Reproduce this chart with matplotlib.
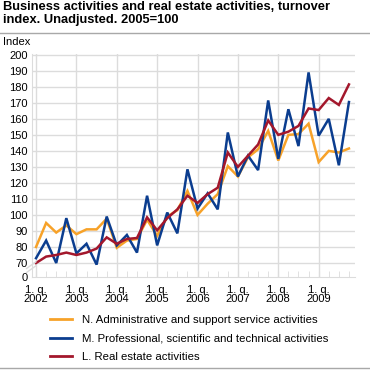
import numpy as np
import matplotlib
matplotlib.use('Agg')
import matplotlib.pyplot as plt
from matplotlib.lines import Line2D

plt.rcParams['font.family'] = ['Liberation Sans', 'DejaVu Sans']

# Quarterly index values, 1. q. 2002 - 4. q. 2009 (2005=100)
years = list(range(2002, 2010))
admin_support = [80, 95, 89, 93.5, 88, 91, 91, 97.7,
                 79.5, 84, 85, 97, 87, 99, 103, 115,
                 100, 107, 113, 130.5, 124, 136, 141, 152.5,
                 134, 150, 150.5, 157, 133, 140, 139, 141.5]
professional = [73, 84, 70, 98, 76, 82, 69, 99,
                81, 87.5, 76.5, 112, 81, 101.5, 88.5, 128.5,
                104, 113.5, 103.5, 151.5, 124, 137, 128, 171.5,
                135, 166, 143, 189, 149.5, 160, 131, 170.5]
real_estate = [70, 74, 75, 76.5, 75, 76.5, 79, 86,
               82, 85, 85.6, 98.5, 90.4, 98, 103.5, 112,
               107.5, 113, 117, 139, 130, 137, 144, 159,
               150, 152, 155.6, 166.5, 165.5, 173, 168.7, 181.5]

series_labels = ['N. Administrative and support service activities',
                 'M. Professional, scientific and technical activities',
                 'L. Real estate activities']
colors = ['#f7a229', '#0b3d8f', '#a3172c']
grid_col = '#dcdcdc'

y_ticks = list(range(70, 201, 10))
zero_pos = 61.25  # where "0" sits below the axis break

fig = plt.figure(figsize=(3.7, 3.7), dpi=100)
ax = fig.add_axes([32 / 370, 1 - 277 / 370, 323 / 370, 223 / 370])

x = np.arange(len(real_estate))
for vals, c in zip([admin_support, professional, real_estate], colors):
    ax.plot(x, vals, color=c, lw=1.8, solid_joinstyle='miter')

ax.set_xlim(-0.4, 31.6)
ax.set_ylim(zero_pos, 200.5)

ax.set_yticks([zero_pos] + y_ticks)
ax.set_yticklabels(['0'] + [str(v) for v in y_ticks])
for v in y_ticks:
    ax.axhline(v, color=grid_col, lw=1, zorder=0)

year_pos = [4 * i for i in range(len(years))]
ax.set_xticks(year_pos)
ax.set_xticklabels(['1. q.\n%d' % y for y in years], linespacing=0.85)
ax.set_xticks(x, minor=True)
for p in year_pos:
    ax.axvline(p, color=grid_col, lw=1, zorder=0)

ax.tick_params(axis='x', which='both', direction='in', length=4,
               color=grid_col, labelsize=8, pad=6)
ax.tick_params(axis='y', length=0, labelsize=8, pad=3)

for s in ['top', 'right']:
    ax.spines[s].set_visible(False)
ax.spines['left'].set_color(grid_col)
ax.spines['bottom'].set_color(grid_col)

# axis break marks
for dy in (0.0, 0.018):
    ax.plot([-0.017, 0.012], [0.02 + dy, 0.05 + dy], transform=ax.transAxes,
            color=grid_col, lw=1, clip_on=False)

fig.text(3 / 370, 1 - 1 / 370,
         'Business activities and real estate activities, turnover\nindex. Unadjusted. 2005=100',
         fontsize=9.3, fontweight='bold', va='top', ha='left', linespacing=1.15)
fig.add_artist(Line2D([0, 1], [1 - 33 / 370] * 2, color='#a8a8a8', lw=1))
fig.add_artist(Line2D([0, 1], [1 - 367.5 / 370] * 2, color='#a8a8a8', lw=1))
fig.text(3 / 370, 1 - 42 / 370, 'Index', fontsize=8, va='center', ha='left')

handles = [Line2D([], [], color=c, lw=2) for c in colors]
fig.legend(handles, series_labels, loc='upper left',
           bbox_to_anchor=(50 / 370, 1 - 315 / 370), frameon=False,
           fontsize=8.2, handlelength=1.9, handletextpad=0.9,
           labelspacing=0.75, borderpad=0, borderaxespad=0)

fig.savefig('out.png', dpi=100)
